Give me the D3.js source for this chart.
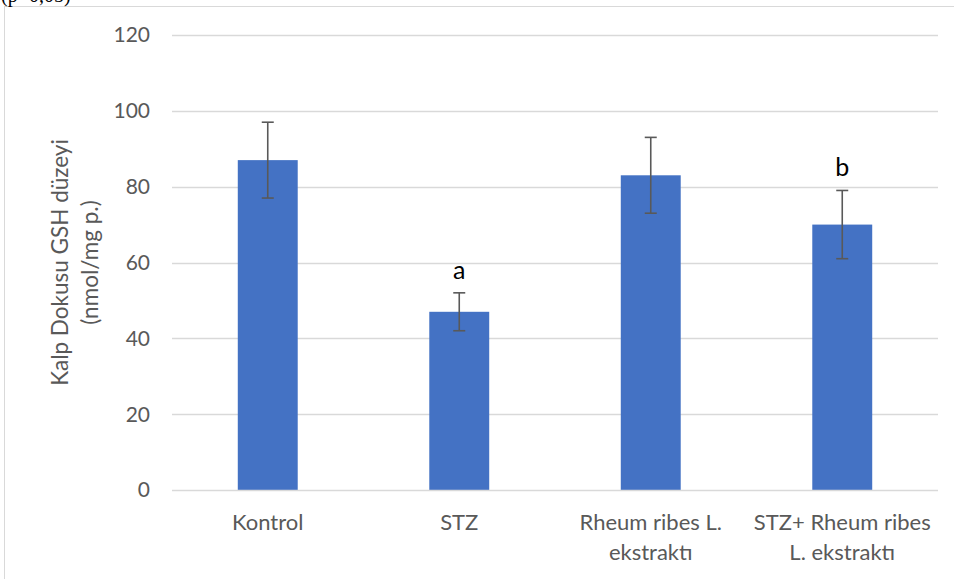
<!DOCTYPE html>
<html><head><meta charset="utf-8">
<script src="https://cdn.jsdelivr.net/npm/d3@7"></script>
<style>body{margin:0;background:#fff;} svg{display:block;}</style>
</head><body>
<svg id="c" width="954" height="579"></svg>
<script>
const categories = [["Kontrol"], ["STZ"], ["Rheum ribes L.", "ekstraktı"], ["STZ+ Rheum ribes", "L. ekstraktı"]];
const values = [87, 47, 83, 70];
const errLow = [77, 42, 73, 61];
const errHigh = [97, 52, 93, 79];
const letters = ["", "a", "", "b"];
const yTicks = [0, 20, 40, 60, 80, 100, 120];
const yLabel = ["Kalp Dokusu GSH düzeyi", "(nmol/mg p.)"];
const topNote = "(p<0,05)";

(function () {
const svg = d3.select("#c");
const font = "Lato, 'Open Sans', sans-serif";
const pL = 172, pR = 938, pT = 35, pB = 490;

// outer chart border (extends past window)
svg.append("rect").attr("x", 4.5).attr("y", 6.5).attr("width", 1000).attr("height", 700)
  .attr("fill", "#fff").attr("stroke", "#d9d9d9").attr("stroke-width", 1);

svg.append("text").attr("x", 1).attr("y", 2).attr("font-family", "'Liberation Serif', serif")
  .attr("font-size", 20).attr("fill", "#000").text(topNote);

const x = d3.scaleBand().domain(d3.range(categories.length)).range([pL, pR])
  .paddingInner(0.687).paddingOuter(0.3435);
const y = d3.scaleLinear().domain([0, 120]).range([pB, pT]);

// gridlines
svg.append("g").selectAll("line").data(yTicks.slice(1)).join("line")
  .attr("x1", pL).attr("x2", pR)
  .attr("y1", d => Math.round(y(d)) + 0.5).attr("y2", d => Math.round(y(d)) + 0.5)
  .attr("stroke", "#d9d9d9").attr("stroke-width", 1.3);

// y tick labels
svg.append("g").selectAll("text").data(yTicks).join("text")
  .attr("x", 150).attr("y", d => y(d)).attr("dy", "0.35em")
  .attr("text-anchor", "end").attr("font-family", font).attr("font-size", 21)
  .attr("fill", "#595959").text(d => d);

// bars
svg.append("g").selectAll("rect").data(values).join("rect")
  .attr("x", (d, i) => x(i)).attr("width", x.bandwidth())
  .attr("y", d => y(d)).attr("height", d => y(0) - y(d))
  .attr("fill", "#4472C4");

// x axis line
svg.append("line").attr("x1", pL).attr("x2", pR)
  .attr("y1", Math.round(y(0)) + 0.5).attr("y2", Math.round(y(0)) + 0.5)
  .attr("stroke", "#d9d9d9").attr("stroke-width", 1.3);

// error bars
const eg = svg.append("g").attr("stroke", "#595959").attr("stroke-width", 1.6);
values.forEach((v, i) => {
  const cx = x(i) + x.bandwidth() / 2;
  eg.append("line").attr("x1", cx).attr("x2", cx).attr("y1", y(errLow[i])).attr("y2", y(errHigh[i]));
  eg.append("line").attr("x1", cx - 6).attr("x2", cx + 6).attr("y1", y(errLow[i])).attr("y2", y(errLow[i]));
  eg.append("line").attr("x1", cx - 6).attr("x2", cx + 6).attr("y1", y(errHigh[i])).attr("y2", y(errHigh[i]));
});

// significance letters
svg.append("g").selectAll("text").data(letters).join("text")
  .attr("x", (d, i) => x(i) + x.bandwidth() / 2)
  .attr("y", (d, i) => y(errHigh[i]) - 14)
  .attr("text-anchor", "middle").attr("font-family", font).attr("font-size", 25)
  .attr("fill", "#000").text(d => d);

// category labels
const cg = svg.append("g");
categories.forEach((lines, i) => {
  const t = cg.append("text").attr("x", x(i) + x.bandwidth() / 2).attr("y", 530)
    .attr("text-anchor", "middle").attr("font-family", font).attr("font-size", 22).attr("fill", "#595959");
  lines.forEach((ln, j) => t.append("tspan").attr("x", x(i) + x.bandwidth() / 2).attr("dy", j ? 30 : 0).text(ln));
});

// y-axis title
const yt = svg.append("text").attr("transform", `translate(0,${(pT + pB) / 2}) rotate(-90)`)
  .attr("text-anchor", "middle").attr("font-family", font).attr("font-size", 22.5).attr("fill", "#595959");
yLabel.forEach((ln, j) => yt.append("tspan").attr("x", 0).attr("y", j ? 98 : 68).text(ln));
})();
</script>
</body></html>
